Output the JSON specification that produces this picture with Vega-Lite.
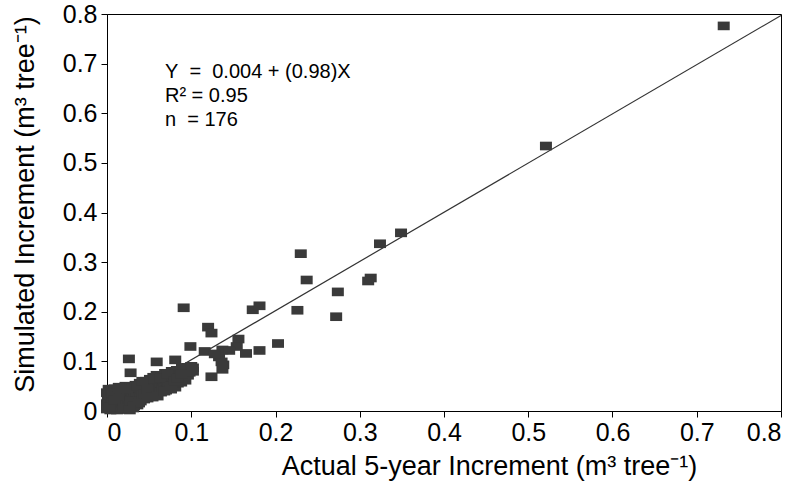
{
  "$schema": "https://vega.github.io/schema/vega-lite/v6.json",
  "width": 674,
  "height": 397,
  "autosize": {"type": "none"},
  "padding": {"left": 107, "top": 14, "right": 25, "bottom": 78},
  "background": "white",
  "config": {
    "view": {"stroke": "black", "strokeWidth": 1},
    "font": "Liberation Sans",
    "axis": {
      "grid": false,
      "domainColor": "black",
      "tickColor": "black",
      "tickSize": 6,
      "labelColor": "black",
      "titleColor": "black",
      "labelFont": "Liberation Sans",
      "titleFont": "Liberation Sans",
      "labelFontSize": 25,
      "titleFontSize": 27,
      "titleFontWeight": "normal"
    }
  },
  "datasets": {
    "pts": [
      {"actual": 0.732, "simulated": 0.776}, {"actual": 0.521, "simulated": 0.534}, {"actual": 0.349, "simulated": 0.359},
      {"actual": 0.324, "simulated": 0.337}, {"actual": 0.230, "simulated": 0.317}, {"actual": 0.237, "simulated": 0.264},
      {"actual": 0.313, "simulated": 0.268}, {"actual": 0.310, "simulated": 0.262}, {"actual": 0.274, "simulated": 0.240},
      {"actual": 0.272, "simulated": 0.190}, {"actual": 0.226, "simulated": 0.203}, {"actual": 0.091, "simulated": 0.208},
      {"actual": 0.173, "simulated": 0.204}, {"actual": 0.181, "simulated": 0.212}, {"actual": 0.120, "simulated": 0.169},
      {"actual": 0.124, "simulated": 0.157}, {"actual": 0.099, "simulated": 0.130}, {"actual": 0.156, "simulated": 0.145},
      {"actual": 0.203, "simulated": 0.136}, {"actual": 0.181, "simulated": 0.122}, {"actual": 0.165, "simulated": 0.116},
      {"actual": 0.154, "simulated": 0.130}, {"actual": 0.137, "simulated": 0.123}, {"actual": 0.116, "simulated": 0.120},
      {"actual": 0.133, "simulated": 0.109}, {"actual": 0.138, "simulated": 0.093}, {"actual": 0.137, "simulated": 0.084},
      {"actual": 0.124, "simulated": 0.069}, {"actual": 0.136, "simulated": 0.099}, {"actual": 0.081, "simulated": 0.103},
      {"actual": 0.095, "simulated": 0.088}, {"actual": 0.026, "simulated": 0.105}, {"actual": 0.028, "simulated": 0.077},
      {"actual": 0.059, "simulated": 0.099}, {"actual": 0.102, "simulated": 0.087}, {"actual": 0.145, "simulated": 0.122},
      {"actual": 0.128, "simulated": 0.115},
      {"actual": 0.000, "simulated": 0.004}, {"actual": 0.000, "simulated": 0.015}, {"actual": 0.001, "simulated": 0.026},
      {"actual": 0.000, "simulated": 0.037}, {"actual": 0.002, "simulated": 0.044}, {"actual": 0.001, "simulated": 0.010},
      {"actual": 0.002, "simulated": 0.020}, {"actual": 0.003, "simulated": 0.032}, {"actual": 0.004, "simulated": 0.002},
      {"actual": 0.005, "simulated": 0.014}, {"actual": 0.005, "simulated": 0.040}, {"actual": 0.006, "simulated": 0.024},
      {"actual": 0.007, "simulated": 0.006}, {"actual": 0.008, "simulated": 0.034}, {"actual": 0.008, "simulated": 0.018},
      {"actual": 0.009, "simulated": 0.045}, {"actual": 0.010, "simulated": 0.010}, {"actual": 0.011, "simulated": 0.028},
      {"actual": 0.012, "simulated": 0.002}, {"actual": 0.012, "simulated": 0.038}, {"actual": 0.013, "simulated": 0.016},
      {"actual": 0.014, "simulated": 0.048}, {"actual": 0.015, "simulated": 0.022}, {"actual": 0.016, "simulated": 0.008},
      {"actual": 0.017, "simulated": 0.032}, {"actual": 0.018, "simulated": 0.042}, {"actual": 0.018, "simulated": 0.014},
      {"actual": 0.019, "simulated": 0.003}, {"actual": 0.020, "simulated": 0.026}, {"actual": 0.021, "simulated": 0.036},
      {"actual": 0.022, "simulated": 0.010}, {"actual": 0.022, "simulated": 0.050}, {"actual": 0.023, "simulated": 0.018},
      {"actual": 0.024, "simulated": 0.030}, {"actual": 0.025, "simulated": 0.004}, {"actual": 0.026, "simulated": 0.040},
      {"actual": 0.026, "simulated": 0.022}, {"actual": 0.027, "simulated": 0.012}, {"actual": 0.028, "simulated": 0.048},
      {"actual": 0.029, "simulated": 0.034}, {"actual": 0.030, "simulated": 0.026}, {"actual": 0.030, "simulated": 0.016},
      {"actual": 0.031, "simulated": 0.006}, {"actual": 0.032, "simulated": 0.042}, {"actual": 0.033, "simulated": 0.030},
      {"actual": 0.034, "simulated": 0.052}, {"actual": 0.034, "simulated": 0.020}, {"actual": 0.035, "simulated": 0.038},
      {"actual": 0.036, "simulated": 0.012}, {"actual": 0.037, "simulated": 0.046}, {"actual": 0.038, "simulated": 0.028},
      {"actual": 0.039, "simulated": 0.056}, {"actual": 0.040, "simulated": 0.036}, {"actual": 0.040, "simulated": 0.020},
      {"actual": 0.041, "simulated": 0.044}, {"actual": 0.042, "simulated": 0.030}, {"actual": 0.043, "simulated": 0.052},
      {"actual": 0.044, "simulated": 0.024}, {"actual": 0.045, "simulated": 0.040}, {"actual": 0.046, "simulated": 0.060},
      {"actual": 0.046, "simulated": 0.032}, {"actual": 0.047, "simulated": 0.048}, {"actual": 0.048, "simulated": 0.026},
      {"actual": 0.049, "simulated": 0.056}, {"actual": 0.050, "simulated": 0.038}, {"actual": 0.051, "simulated": 0.064},
      {"actual": 0.052, "simulated": 0.030}, {"actual": 0.052, "simulated": 0.046}, {"actual": 0.053, "simulated": 0.054},
      {"actual": 0.054, "simulated": 0.036}, {"actual": 0.055, "simulated": 0.068}, {"actual": 0.056, "simulated": 0.044},
      {"actual": 0.057, "simulated": 0.058}, {"actual": 0.058, "simulated": 0.034}, {"actual": 0.058, "simulated": 0.050},
      {"actual": 0.059, "simulated": 0.072}, {"actual": 0.060, "simulated": 0.040}, {"actual": 0.061, "simulated": 0.062},
      {"actual": 0.062, "simulated": 0.048}, {"actual": 0.063, "simulated": 0.056}, {"actual": 0.064, "simulated": 0.038},
      {"actual": 0.065, "simulated": 0.070}, {"actual": 0.066, "simulated": 0.046}, {"actual": 0.067, "simulated": 0.060},
      {"actual": 0.068, "simulated": 0.052}, {"actual": 0.069, "simulated": 0.076}, {"actual": 0.070, "simulated": 0.042},
      {"actual": 0.071, "simulated": 0.066}, {"actual": 0.072, "simulated": 0.056}, {"actual": 0.073, "simulated": 0.048},
      {"actual": 0.074, "simulated": 0.072}, {"actual": 0.075, "simulated": 0.060}, {"actual": 0.076, "simulated": 0.044},
      {"actual": 0.077, "simulated": 0.080}, {"actual": 0.078, "simulated": 0.066}, {"actual": 0.079, "simulated": 0.054},
      {"actual": 0.080, "simulated": 0.074}, {"actual": 0.081, "simulated": 0.048}, {"actual": 0.082, "simulated": 0.062},
      {"actual": 0.083, "simulated": 0.082}, {"actual": 0.084, "simulated": 0.056}, {"actual": 0.085, "simulated": 0.070},
      {"actual": 0.086, "simulated": 0.064}, {"actual": 0.087, "simulated": 0.078}, {"actual": 0.088, "simulated": 0.058},
      {"actual": 0.089, "simulated": 0.086}, {"actual": 0.090, "simulated": 0.068}, {"actual": 0.091, "simulated": 0.076},
      {"actual": 0.093, "simulated": 0.062}, {"actual": 0.094, "simulated": 0.082}, {"actual": 0.096, "simulated": 0.072},
      {"actual": 0.098, "simulated": 0.078}, {"actual": 0.100, "simulated": 0.090}, {"actual": 0.102, "simulated": 0.080},
      {"actual": 0.003, "simulated": 0.008}, {"actual": 0.006, "simulated": 0.036}, {"actual": 0.009, "simulated": 0.022},
      {"actual": 0.014, "simulated": 0.030}, {"actual": 0.016, "simulated": 0.044}, {"actual": 0.020, "simulated": 0.006},
      {"actual": 0.024, "simulated": 0.044}, {"actual": 0.028, "simulated": 0.020}, {"actual": 0.032, "simulated": 0.010},
      {"actual": 0.036, "simulated": 0.050}, {"actual": 0.038, "simulated": 0.016}, {"actual": 0.042, "simulated": 0.060},
      {"actual": 0.044, "simulated": 0.034}, {"actual": 0.048, "simulated": 0.044}, {"actual": 0.054, "simulated": 0.028},
      {"actual": 0.056, "simulated": 0.064}, {"actual": 0.060, "simulated": 0.030}, {"actual": 0.064, "simulated": 0.066},
      {"actual": 0.068, "simulated": 0.040}, {"actual": 0.072, "simulated": 0.074}, {"actual": 0.076, "simulated": 0.050},
      {"actual": 0.080, "simulated": 0.060}, {"actual": 0.084, "simulated": 0.066}, {"actual": 0.088, "simulated": 0.074},
      {"actual": 0.027, "simulated": 0.002}
    ],
    "reg": [
      {"actual": 0.0, "simulated": 0.004},
      {"actual": 0.8, "simulated": 0.797}
    ],
    "ann": [
      {"actual": 0.0688, "simulated": 0.684, "label": "Y\u00a0\u00a0=\u00a0\u00a00.004\u00a0+\u00a0(0.98)X"},
      {"actual": 0.0688, "simulated": 0.634, "label": "R² = 0.95"},
      {"actual": 0.0688, "simulated": 0.587, "label": "n\u00a0\u00a0= 176"}
    ]
  },
  "layer": [
    {
      "data": {"name": "reg"},
      "mark": {"type": "line", "color": "#333333", "strokeWidth": 1.2, "clip": false},
      "encoding": {
        "x": {"field": "actual", "type": "quantitative", "scale": {"domain": [0, 0.8], "nice": false},
          "axis": {"values": [0, 0.1, 0.2, 0.3, 0.4, 0.5, 0.6, 0.7, 0.8], "labelExpr": "datum.value == 0 ? '0' : format(datum.value, '.1f')", "labelPadding": 3, "titleX": 382, "titleY": 55, "titleAlign": "center", "titleBaseline": "middle"},
          "title": "Actual 5-year Increment (m³ tree⁻¹)"},
        "y": {"field": "simulated", "type": "quantitative", "scale": {"domain": [0, 0.8], "nice": false},
          "axis": {"values": [0, 0.1, 0.2, 0.3, 0.4, 0.5, 0.6, 0.7, 0.8], "labelExpr": "datum.value == 0 ? '0' : format(datum.value, '.1f')", "labelPadding": 4, "titleX": -82, "titleY": 190, "titleAngle": -90, "titleAlign": "center", "titleBaseline": "middle"},
          "title": "Simulated Increment (m³ tree⁻¹)"}
      }
    },
    {
      "data": {"name": "pts"},
      "mark": {"type": "point", "shape": "M-1,-0.72H1V0.72H-1Z", "filled": true, "size": 144, "color": "#3a3a3a", "opacity": 1, "strokeWidth": 0},
      "encoding": {
        "x": {"field": "actual", "type": "quantitative"},
        "y": {"field": "simulated", "type": "quantitative"}
      }
    },
    {
      "data": {"name": "ann"},
      "mark": {"type": "text", "align": "left", "baseline": "middle", "fontSize": 20, "font": "Liberation Sans", "color": "black"},
      "encoding": {
        "x": {"field": "actual", "type": "quantitative"},
        "y": {"field": "simulated", "type": "quantitative"},
        "text": {"field": "label"}
      }
    }
  ]
}
